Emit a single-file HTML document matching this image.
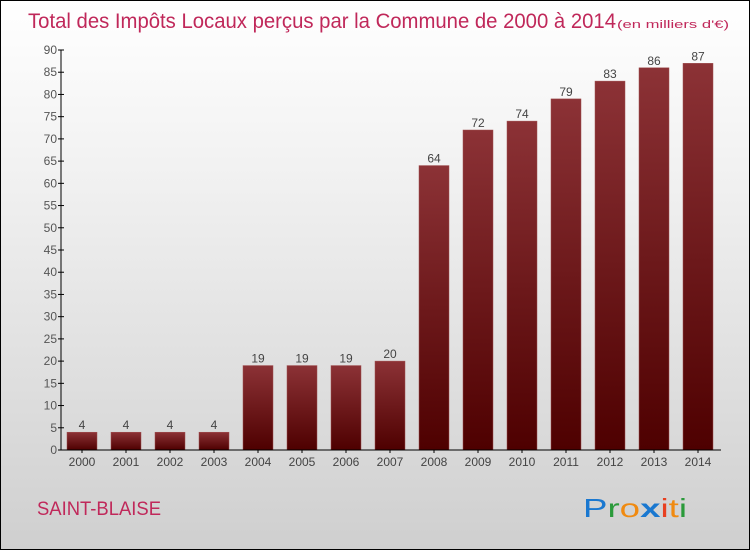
<!DOCTYPE html>
<html><head><meta charset="utf-8"><style>
body{margin:0}
#wrap{position:relative;width:748px;height:548px;border:1px solid #000;background:linear-gradient(#ffffff,#f2f2f2 30%,#cfcfcf);font-family:"Liberation Sans",sans-serif;overflow:hidden}
</style></head><body>
<div id="wrap">
<svg id="chart" width="748" height="548">
<defs><linearGradient id="bg" x1="0" y1="0" x2="0" y2="1"><stop offset="0" stop-color="#8c3236"/><stop offset="1" stop-color="#4e0000"/></linearGradient></defs>
<text x="27" y="27" font-size="21" fill="#c0285a" textLength="588" lengthAdjust="spacingAndGlyphs">Total des Impôts Locaux perçus par la Commune de 2000 à 2014</text>
<text x="616" y="27" font-size="11" fill="#c0285a" textLength="112" lengthAdjust="spacingAndGlyphs">(en milliers d'€)</text>
<text x="36" y="514" font-size="19" fill="#c0285a" textLength="124" lengthAdjust="spacingAndGlyphs">SAINT-BLAISE</text>
<g font-size="26" font-family="'Liberation Sans',sans-serif">
<text x="582" y="516" textLength="104" lengthAdjust="spacingAndGlyphs"><tspan fill="#1a78d0">P</tspan><tspan fill="#2a9a3a">r</tspan><tspan fill="#f08a10">o</tspan><tspan fill="#1a78d0" font-weight="bold">x</tspan><tspan fill="#e84020">i</tspan><tspan fill="#f08a10">t</tspan><tspan fill="#2a9a3a">i</tspan></text>
</g>
</svg>
</div>
<script>
const categories=["2000","2001","2002","2003","2004","2005","2006","2007","2008","2009","2010","2011","2012","2013","2014"];
const values=[4,4,4,4,19,19,19,20,64,72,74,79,83,86,87];
const yTicks=[0,5,10,15,20,25,30,35,40,45,50,55,60,65,70,75,80,85,90];
const svg=document.getElementById('chart');
const NS='http://www.w3.org/2000/svg';
const x0=60,y0=449,yMax=90,plotH=400,step=44,bw=30;
const y=v=>y0-v/yMax*plotH;
const x=i=>x0+6+i*step;
function mk(t,a){const e=document.createElementNS(NS,t);for(const k in a)e.setAttribute(k,a[k]);svg.appendChild(e);return e;}
categories.forEach((c,i)=>{
 const r=mk('rect',{x:x(i),y:y(values[i]),width:bw,height:y0-y(values[i]),fill:'url(#bg)',stroke:'#a05050','stroke-width':0.5});
 
 
 const t=mk('text',{x:x(i)+bw/2,y:y(values[i])-3,'font-size':12,fill:'#444','text-anchor':'middle'});t.textContent=values[i];
 
 
 const l=mk('text',{x:x(i)+bw/2,y:y0+16,'font-size':12,fill:'#444','text-anchor':'middle'});l.textContent=c;
 
 
 mk('line',{x1:x(i)+bw/2,x2:x(i)+bw/2,y1:y0,y2:y0+3,stroke:'#000'});
});
yTicks.forEach(v=>{
 mk('line',{x1:x0-3,x2:x0+3,y1:y(v),y2:y(v),stroke:'#000'});
 const t=mk('text',{x:x0-4,y:y(v)+4,'font-size':12,fill:'#555','text-anchor':'end'});t.textContent=v;
 
 
});
const ya=mk('line',{x1:x0,x2:x0,y1:y(90),y2:y0,stroke:'#000'});


const xa=mk('line',{x1:x0,x2:720,y1:y0,y2:y0,stroke:'#000'});


</script>
</body></html>
